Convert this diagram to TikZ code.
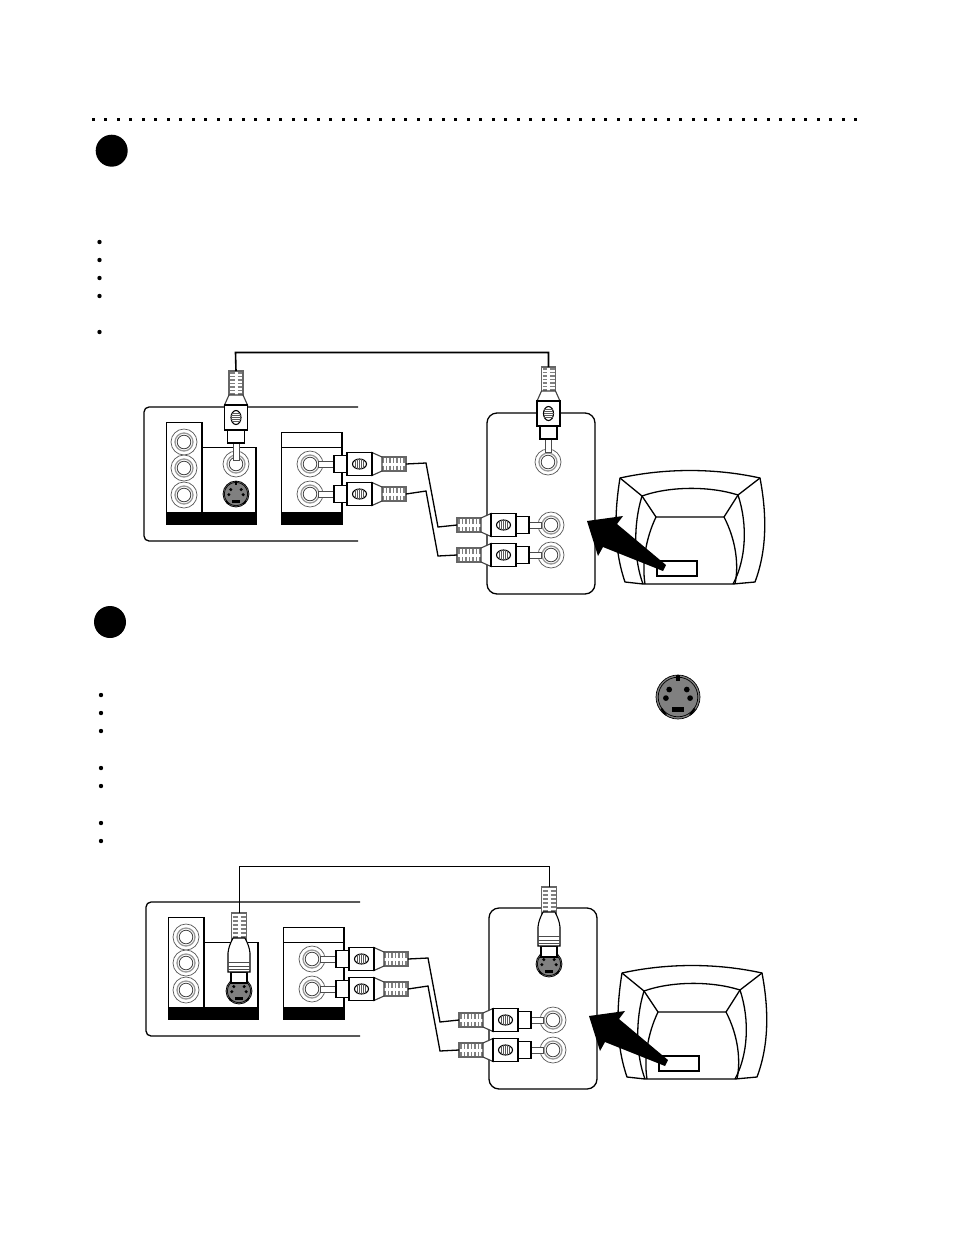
\documentclass[tikz,border=0pt]{standalone}
\tikzset{
  ln/.style={line width=1.1pt,draw=black},
  thick box/.style={line width=1.7pt,draw=black},
  cable/.style={line width=1.3pt,draw=black,line join=miter},
  rib/.style={line width=1.1pt,draw=black!50},
  pics/rcaplug/.style={code={
    \def\st{#1}
    \draw[line width=.9pt,draw=black!70,fill=white] (0,-3) rectangle (\st,3);
    \begin{scope}[shift={(\st,0)}]
      \draw[ln,fill=white] (0,-8.5) rectangle (13,8.5);
      \draw[ln,draw=black!60,fill=white] (46,-7) rectangle (72,7);
      \foreach \t in {49,52.5,56,59.5,63,66.5,70}{
        \draw[rib] (\t,-6) -- (\t,-1.5);
        \draw[rib] (\t,1.5) -- (\t,6);
      }
      \draw[ln,draw=black!75,fill=white] (38,-11.5) -- (48,-7) -- (48,7) -- (38,11.5) -- cycle;
      \draw[ln,fill=white] (13,-11.5) rectangle (38,11.5);
      \draw[ln,fill=white] (25.5,0) ellipse (7 and 5);
      \foreach \t/\h in {-4/4.1,-2/4.8,0/5,2/4.8,4/4.1}{
        \draw[line width=.9pt,draw=black!65] (25.5+\t,-\h) -- (25.5+\t,\h);
      }
      \coordinate (-end) at (72,0);
    \end{scope}
  }},
  pics/splug/.style={code={
    \draw[ln,fill=white] (0,-8) rectangle (11,8);
    \draw[ln,draw=black!60,fill=white] (42,-7.5) rectangle (70,7.5);
    \foreach \t in {46,50,54,58,62,66}{
      \draw[rib] (\t,-6.5) -- (\t,-1.5);
      \draw[rib] (\t,1.5) -- (\t,6.5);
    }
    \draw[ln,fill=white] (11,-11) -- (30,-11) .. controls (36,-10.5) and (41,-8) .. (45,-6)
       -- (45,6) .. controls (41,8) and (36,10.5) .. (30,11) -- (11,11) -- cycle;
    \draw[rib,line width=1pt,draw=black!70] (13.5,-11) -- (13.5,11);
    \draw[rib,line width=1pt,draw=black!70] (17,-11) -- (17,11);
    \draw[rib,line width=1pt,draw=black!70] (20.5,-11) -- (20.5,11);
    \coordinate (-end) at (70,0);
  }},
  pics/rcajack/.style={code={
    \draw[line width=.7pt,draw=black!65,fill=white] (0,0) circle (13);
    \draw[line width=1.3pt,draw=black!40] (0,0) circle (9);
    \draw[line width=.8pt,draw=black!75] (0,0) circle (6.8);
  }},
  pics/sjack/.style={code={
    \fill[black!50] (0,0) circle (1);
    \draw[line width=.7pt,draw=black] (0,0) circle (1);
    \draw[line width=.7pt,draw=black] (0,0) circle (.9);
    \fill (-.4,-.34) circle (.13);
    \fill (.4,-.34) circle (.13);
    \fill (-.55,.05) circle (.13);
    \fill (.55,.05) circle (.13);
    \fill (-.28,.45) rectangle (.28,.66);
    \fill (-.1,-1) rectangle (.1,-.72);
    \fill (-.72,.5) -- (-.5,.8) -- (-.62,.8) -- (-.8,.55) -- cycle;
    \fill (.72,.5) -- (.5,.8) -- (.62,.8) -- (.8,.55) -- cycle;
  }}
}
% everything that the two hook-ups share; #1 is a name prefix
\newcommand{\hookup}[1]{%
  % rear panel
  \draw[ln,line width=1.3pt,rounded corners=5pt] (358,407) -- (144,407) -- (144,541) -- (358,541);
  \draw[thick box] (166.5,512) -- (166.5,422.5) -- (202,422.5) -- (202,512);
  \draw[thick box] (202,447.5) -- (256,447.5) -- (256,512);
  \draw[thick box] (281.5,512) -- (281.5,432.5) -- (342,432.5) -- (342,512);
  \draw[thick box] (281.5,447.5) -- (342,447.5);
  \fill (166,512) rectangle (257,525);
  \fill (281,512) rectangle (342.5,525);
  \pic (#1a) at (184,442) {rcajack};
  \pic (#1b) at (184,468) {rcajack};
  \pic (#1c) at (184,495) {rcajack};
  \pic (#1l) at (310,464) {rcajack};
  \pic (#1r) at (310,494) {rcajack};
  % audio plugs and cables
  \pic (#1pl) at (318,464) {rcaplug=16};
  \pic (#1pr) at (318,494) {rcaplug=16};
  % distribution box
  \draw[ln,line width=1.3pt,rounded corners=10pt] (487,413) rectangle (595,594);
  \pic (#1ta) at (551,525) {rcajack};
  \pic (#1tb) at (551,555) {rcajack};
  \pic (#1qa) at (541,525) [rotate=180] {rcaplug=12};
  \pic (#1qb) at (541,555) [rotate=180] {rcaplug=12};
  \coordinate (#1ka) at (426,463);
  \coordinate (#1kb) at (426,491);
  \coordinate (#1ma) at (438,527);
  \coordinate (#1mb) at (438,556);
  \draw[cable] (#1pl-end) -- (#1ka) -- (#1ma) -- (#1qa-end);
  \draw[cable] (#1pr-end) -- (#1kb) -- (#1mb) -- (#1qb-end);
  % television
  \draw[ln,line width=1.3pt,fill=white,line join=round] (620,478) .. controls (665,468) and (715,468) .. (760,478)
     .. controls (767,515) and (767,550) .. (755,582) -- (733,584) -- (643,584) -- (625,582)
     .. controls (614,550) and (614,515) .. (620,478) -- cycle;
  \draw[ln,line width=1.3pt] (620,478) -- (642,496) .. controls (670,486) and (710,486) .. (738,495) -- (760,478);
  \draw[ln,line width=1.3pt] (642,496) -- (656,517) -- (724,517) -- (738,495);
  \draw[ln,line width=1.3pt] (642,496) .. controls (633,525) and (634,560) .. (643,584);
  \draw[ln,line width=1.3pt] (738,495) .. controls (748,525) and (746,560) .. (733,584);
  \draw[ln,line width=1.3pt] (656,517) .. controls (645,540) and (642,565) .. (645,584);
  \draw[ln,line width=1.3pt] (724,517) .. controls (736,540) and (739,565) .. (735,584);
  \draw[line width=1.5pt,draw=black,fill=white] (657,561) rectangle (697,576);
  \fill (587,521) -- (623,516) -- (617,524) -- (666,565) -- (663,571) -- (603,547) -- (598,556) -- cycle;
}
\begin{document}
\begin{tikzpicture}[x=1pt,y=-1pt,line cap=butt]
\useasboundingbox (0,0) rectangle (954,1235);
\fill[white] (0,0) rectangle (954,1235);
% dotted rule
\foreach \i in {0,...,61}{
  \fill (93+12.5*\i-1.5,117.5) rectangle (93+12.5*\i+1.5,120.5);
}
% numbered discs
\node[circle,fill=black,minimum size=32pt,inner sep=0pt] (disc1) at (111.7,150.7) {};
\node[circle,fill=black,minimum size=32pt,inner sep=0pt] (disc2) at (110,622) {};
% bullets
\foreach \y in {242,260,278,296,332}{\fill (99.5,\y) circle (2.2);}
\foreach \y in {695,713,731,768,786,823,841}{\fill (101,\y) circle (2.2);}
% large S-video socket
\pic (bigs) at (678,697) [scale=22] {sjack};

% first hook-up: composite video
\hookup{u}
\pic (ucj) at (236,464) {rcajack};
\pic (usj) at (236,494) [scale=13] {sjack};
\pic (uv) at (236,460) [rotate=90] {rcaplug=17};
\pic (ucb) at (548,462) {rcajack};
\pic (uw) at (548.5,452) [rotate=90] {rcaplug=13};
\coordinate (uca) at (235.5,352.5);
\coordinate (ucc) at (548.5,352.5);
\draw[cable,line width=1.6pt] (uv-end) -- (uca) -- (ucc) -- (uw-end);

% second hook-up: S-video
\begin{scope}[shift={(2,495)}]
\hookup{d}
\end{scope}
\pic (dsj) at (239,991) [scale=13] {sjack};
\pic (dv) at (239,983) [rotate=90] {splug};
\pic (dsb) at (549,964) [scale=13] {sjack};
\pic (dw) at (549,957) [rotate=90] {splug};
\coordinate (dca) at (239,866);
\coordinate (dcc) at (549,866);
\draw[line width=.9pt,draw=black] (dv-end) -- (dca) -- (dcc) -- (dw-end);
\end{tikzpicture}
\end{document}
